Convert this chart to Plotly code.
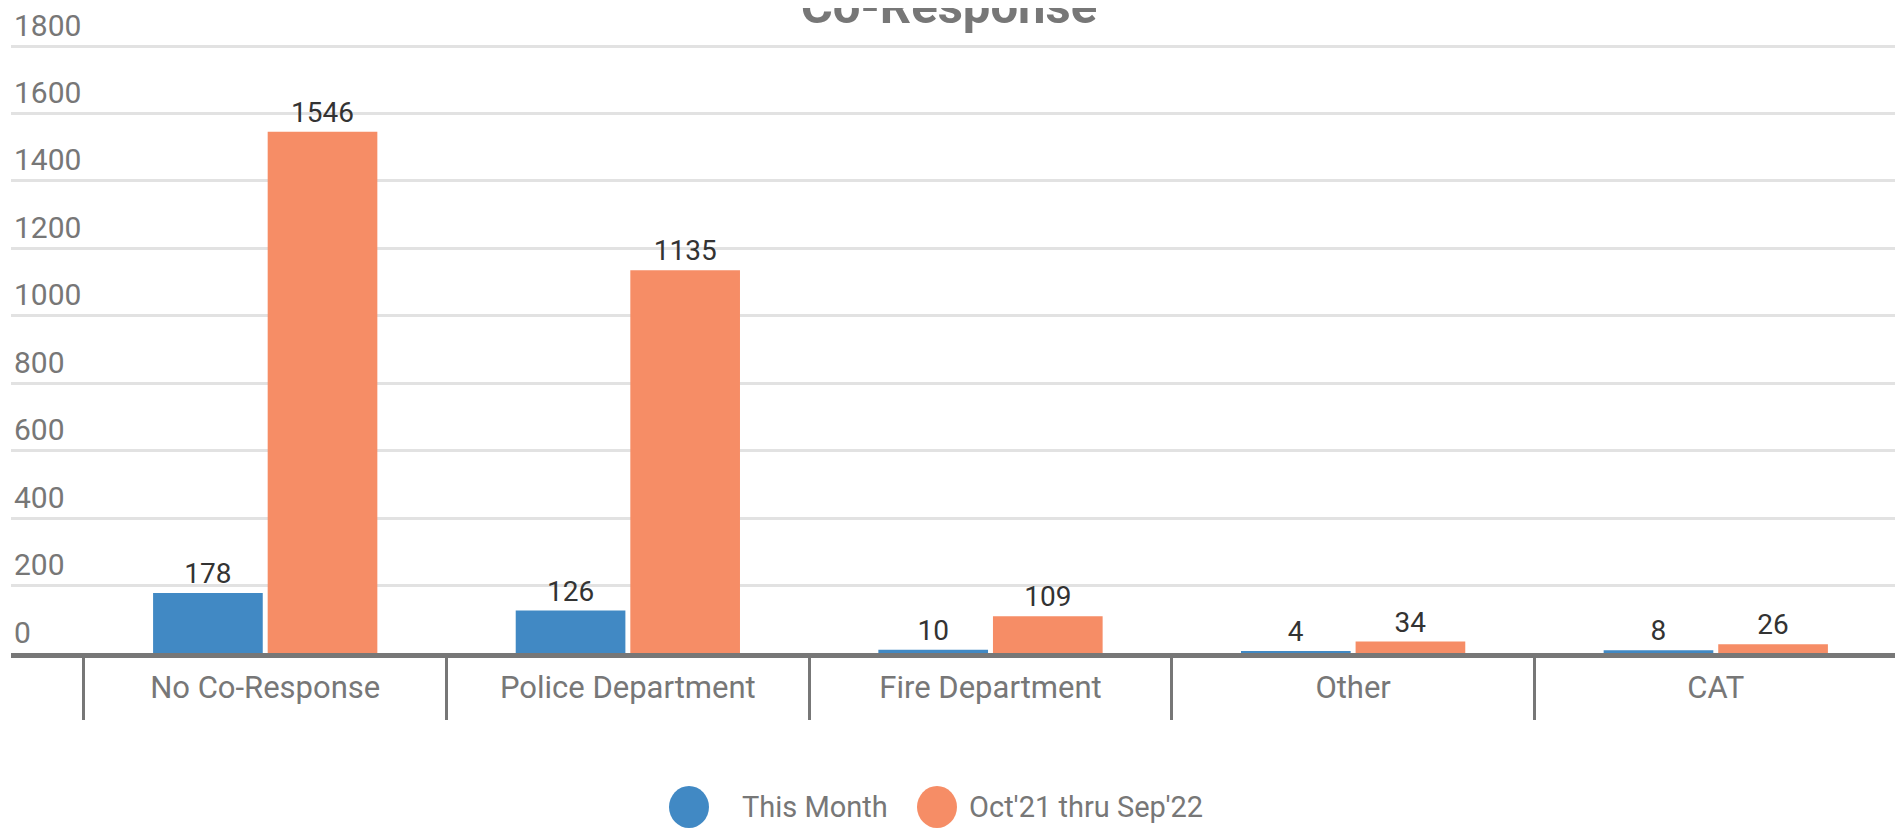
import plotly.graph_objects as go

# Chart data
categories = ['No Co-Response', 'Police Department', 'Fire Department', 'Other', 'CAT']
this_month = [178, 126, 10, 4, 8]
year_to_date = [1546, 1135, 109, 34, 26]
series_names = ['This Month', "Oct'21 thru Sep'22"]
y_ticks = [0, 200, 400, 600, 800, 1000, 1200, 1400, 1600, 1800]

BLUE = '#4189c4'
ORANGE = '#f68d66'
GREY = '#777777'
FONT = 'Roboto'

W, H = 1903, 832
OFF = 8  # page body margin: figure px = screen px - OFF

# plot area in figure pixels (screen: left 11, right 1900, bottom 653, 1800-line at 46)
P_L, P_R, P_B, P_T = 11 - OFF, 1900 - OFF, 653 - OFF, 4
M_L, M_R, M_T, M_B = P_L, W - P_R, P_T, H - P_B
plot_w = P_R - P_L
plot_h = P_B - P_T
Y_TOP = 1800 * plot_h / (653 - 46)


def px_x(px):
    # screen pixel -> paper x
    return (px - OFF - P_L) / plot_w


def px_y(py):
    # screen pixel -> paper y
    return (P_B - (py - OFF)) / plot_h


fig = go.Figure()
for vals, name, color in [(this_month, series_names[0], BLUE), (year_to_date, series_names[1], ORANGE)]:
    fig.add_trace(go.Bar(
        x=categories, y=vals, name=name, marker=dict(color=color, line=dict(width=0)),
        text=vals, textposition='outside', cliponaxis=False,
        textfont=dict(family=FONT, size=28, color='#333333'),
        showlegend=False
    ))

# hand-made legend with round markers
legend_items = [(series_names[0], BLUE, 689, 740), (series_names[1], ORANGE, 937, 967)]
shapes, annotations = [], []
for name, color, cx, tx in legend_items:
    shapes.append(dict(
        type='circle', xref='paper', yref='paper', xsizemode='pixel', ysizemode='pixel',
        xanchor=px_x(cx), yanchor=px_y(807), x0=-20, x1=20, y0=-21, y1=21,
        fillcolor=color, line=dict(width=0)
    ))
    annotations.append(dict(
        text=name, xref='paper', yref='paper', x=px_x(tx), y=px_y(807),
        xanchor='left', yanchor='middle', showarrow=False,
        font=dict(family=FONT, size=29, color=GREY)
    ))

fig.update_layout(
    width=W, height=H,
    margin=dict(l=M_L, r=M_R, t=M_T, b=M_B, autoexpand=False),
    paper_bgcolor='white', plot_bgcolor='white',
    title=dict(text='<b>Co-Response</b>', x=(949 - OFF) / W, xanchor='center',
               yref='container', y=1 - 15 / H, yanchor='bottom',
               font=dict(family=FONT, size=49, color=GREY)),
    barmode='group', bargap=0.368, bargroupgap=0.043,
    showlegend=False,
    shapes=shapes, annotations=annotations,
    xaxis=dict(
        type='category', range=[-0.701, 4.508], automargin=False,
        showline=True, linecolor=GREY, linewidth=5,
        ticks='outside', tickson='boundaries', ticklen=62, tickwidth=3, tickcolor=GREY,
        ticklabelstandoff=3,
        tickfont=dict(family=FONT, size=31, color=GREY),
        showgrid=False
    ),
    yaxis=dict(
        range=[0, Y_TOP], tickvals=y_ticks, automargin=False,
        showgrid=True, gridcolor='#e2e2e2', gridwidth=3,
        zeroline=False, showline=False, ticks='',
        ticklabelposition='inside top', ticklabeloverflow='allow',
        tickfont=dict(family=FONT, size=30, color=GREY)
    )
)

fig.write_html('out.html')
